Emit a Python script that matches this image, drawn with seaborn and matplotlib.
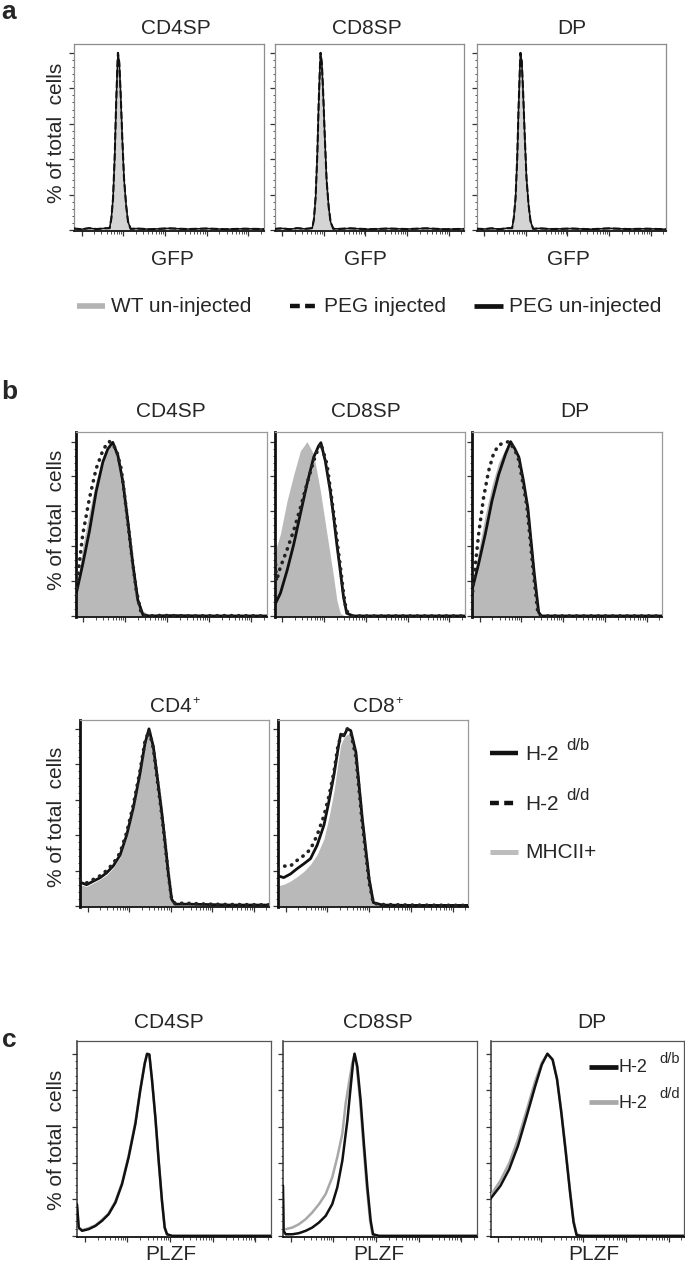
import numpy as np
import pandas as pd
import matplotlib
matplotlib.use("Agg")
import matplotlib.pyplot as plt
import seaborn as sns
from matplotlib.lines import Line2D

sns.set_theme(style="white")
plt.rcParams['font.family'] = ['Liberation Sans', 'DejaVu Sans']

# ---------------- DATA (x = channel position in % of axis width, y = % of max) ----------------
# panel a : GFP (WT un-injected / PEG injected / PEG un-injected overlap almost perfectly)
a_titles = ["CD4SP", "CD8SP", "DP"]
a_cd4_x = [0, 4, 8, 12, 16, 18.8, 19.7, 20.6, 21.5, 22.2, 22.9, 23.2, 23.9, 24.6, 25.5, 26.4, 27.5, 28.5, 29.9, 33, 40, 50, 60, 70, 80, 90, 100]
a_cd4_y = [0.8, 0.4, 1.0, 0.5, 0.9, 1.0, 6.5, 17.8, 42, 70, 92.5, 100, 94.4, 77.6, 51.4, 29, 14, 4.7, 0.6, 0.8, 0.4, 0.9, 0.5, 0.8, 0.4, 0.7, 0.5]
a_cd8_x = [0, 4, 8, 12, 16, 19.9, 20.8, 21.7, 22.6, 23.3, 24.0, 24.3, 25.0, 25.7, 26.6, 27.5, 28.6, 29.6, 31.0, 34, 40, 50, 60, 70, 80, 90, 100]
a_cd8_y = [0.6, 0.9, 0.4, 1.0, 0.6, 1.0, 6.0, 18.5, 43, 71, 93, 100, 94, 77, 51, 28, 13, 4.5, 0.7, 0.6, 0.9, 0.4, 0.8, 0.5, 0.9, 0.4, 0.6]
a_dp_x = [0, 4, 8, 12, 16, 18.8, 19.7, 20.6, 21.5, 22.2, 22.9, 23.2, 23.9, 24.6, 25.5, 26.4, 27.5, 28.5, 29.9, 33, 40, 50, 60, 70, 80, 90, 100]
a_dp_y = [0.7, 0.5, 0.9, 0.4, 1.0, 1.0, 7.0, 18.0, 41, 69, 92, 100, 95, 78, 52, 29, 14, 5.0, 0.6, 0.9, 0.5, 0.8, 0.4, 0.9, 0.5, 0.7, 0.4]
a_legend = ["WT un-injected", "PEG injected", "PEG un-injected"]

# panel b (top) : H-2 d/b (solid), H-2 d/d (dotted), MHCII+ (grey fill)
b_titles = ["CD4SP", "CD8SP", "DP"]
b_cd4_db_x = [0, 3.8, 7.3, 10.8, 14.3, 16.9, 19.5, 22.2, 24.8, 27.4, 30, 32.6, 35.3, 38.7, 50, 70, 100]
b_cd4_db_y = [10.9, 29.8, 48.7, 71.3, 88.3, 95.8, 99.6, 92, 77, 54.3, 29.8, 9.1, 0.6, 0, 0.2, 0, 0]
b_cd4_dd_x = [0, 0.3, 3.8, 7.3, 10.8, 14.3, 16.9, 17.8, 21.3, 23.9, 26.5, 29.1, 31.8, 34.4, 37, 45, 60, 80, 100]
b_cd4_dd_y = [12, 14.7, 46.8, 67.5, 84.5, 94.9, 99.6, 100, 95.8, 84.5, 61.9, 37.4, 14.7, 1.5, 0, 0.3, 0, 0.2, 0]
b_cd4_mh_x = [0, 3.8, 7.3, 10.8, 14.3, 17.5, 19.5, 21, 23, 25.5, 28, 30.5, 33, 35, 38, 42, 50, 100]
b_cd4_mh_y = [12, 40, 60, 78, 90, 97, 98, 95, 86, 70, 50, 28, 10, 3, 1, 0.3, 0, 0]

b_cd8_db_x = [0, 3.1, 6.6, 10.1, 13.6, 17.1, 20.6, 23.2, 24.4, 26.7, 29.3, 31.1, 32.8, 34.6, 36.3, 38, 41.5, 100]
b_cd8_db_y = [6, 13, 26, 41, 58.5, 75.7, 91, 97.5, 99.4, 89, 72, 57, 41, 26, 11, 1.5, 0, 0]
b_cd8_dd_x = [0, 1, 3.1, 6.6, 10.1, 13.6, 17.1, 20.6, 23.2, 24.4, 27.6, 30, 31.8, 33.5, 34.9, 36.3, 37.7, 40, 100]
b_cd8_dd_y = [42, 20, 28, 38, 49, 62, 76, 89, 96.6, 99, 87, 68, 53, 38, 26, 13, 3.4, 0, 0]
b_cd8_mh_x = [0, 3.1, 6.6, 10.1, 13.6, 17.1, 20.6, 24.1, 27.6, 31.1, 32.8, 34.6, 37, 100]
b_cd8_mh_y = [36, 47, 66, 81, 94.7, 100, 92.8, 71.9, 47, 22.4, 9, 1.5, 0, 0]

b_dp_db_x = [0, 3.5, 7, 10.5, 14, 17.5, 20.3, 22.5, 24.7, 27, 29.4, 31, 32.8, 35.1, 36.5, 100]
b_dp_db_y = [14.8, 30, 47, 66, 81, 92.4, 100, 96, 91, 78, 62, 44, 24, 2, 0, 0]
b_dp_dd_x = [0, 0.9, 3.5, 6.1, 8.7, 11.3, 14, 17.5, 19.6, 22, 24.2, 26.5, 28.9, 30.5, 32.3, 34.6, 36, 100]
b_dp_dd_y = [10, 20.5, 47, 68, 83, 93, 98, 99.6, 100, 96, 91.5, 78, 63, 45, 25, 2.3, 0, 0]
b_dp_mh_x = [0, 3.5, 7, 10.5, 14, 17.5, 19.8, 22, 24.4, 26.7, 29, 30.7, 32.5, 34.8, 37, 45, 100]
b_dp_mh_y = [15, 38, 58, 75, 88, 96, 99, 95, 89, 76, 60, 43, 23, 3, 0.8, 0.3, 0]

# panel b (bottom) : CD4+ and CD8+
b2_titles = ["CD4", "CD8"]
b2_cd4_x = [0, 3.5, 7.1, 10.6, 14.1, 17.6, 21.2, 24.7, 28.2, 31.7, 34.4, 36.5, 38.8, 40.9, 43.2, 45, 46.7, 48.5, 50.3, 56.4, 67.9, 80, 100]
b2_cd4_db_y = [13.4, 12, 14, 15.9, 18.7, 22.6, 28.7, 40, 55.4, 74.6, 91.8, 100, 90, 72.7, 53.5, 36.3, 19, 3.8, 1, 1, 0.8, 0.5, 0.5]
b2_cd4_dd_y = [14.5, 13, 15, 17, 20, 24, 30, 41.5, 57, 76, 93, 99, 89, 71, 52, 35, 18, 3.5, 1.5, 1.5, 1, 0.8, 0.6]
b2_cd4_mh_y = [12, 11, 13, 15, 17.5, 21.5, 27.5, 38.5, 54, 73, 90, 98, 88, 70, 51, 34, 17, 2.5, 0.5, 0.3, 0.2, 0.1, 0]
b2_cd8_x = [0, 3, 6.5, 10, 13.6, 17.1, 20.6, 24.2, 26.8, 29.5, 31.7, 33, 34.7, 36.5, 38.3, 41, 44.4, 48, 50.2, 55, 70, 100]
b2_cd8_db_y = [17, 16, 18, 21, 23.8, 26.7, 34.3, 45.7, 59, 74.3, 89.5, 97, 96, 100, 99, 86.8, 49, 15, 1.9, 0.5, 0.3, 0.3]
b2_cd8_dd_y = [21, 22.5, 22.5, 25.7, 28.5, 32, 40, 51, 62, 76, 91.4, 95, 97, 100, 98, 84, 46, 13, 1.5, 0.8, 0.5, 0.3]
b2_cd8_mh_y = [11.4, 12.2, 14, 16.5, 19.5, 23.5, 29, 38, 50, 65, 82, 91, 95, 97, 96, 82, 44, 11, 1, 0.5, 0.3, 0.2]

# panel c : PLZF, H-2 d/b (black) and H-2 d/d (grey)
c_titles = ["CD4SP", "CD8SP", "DP"]
c_cd4_x = [0, 0.9, 2.6, 6, 9.5, 12.9, 16.3, 19.8, 23.2, 26.6, 30.1, 32.6, 34.9, 36.1, 37.3, 38.7, 40.4, 42.1, 43.8, 45.2, 46.4, 49, 100]
c_cd4_db_y = [17.4, 4.6, 2.8, 3.7, 5.5, 8.3, 11.9, 18.3, 28.4, 43.1, 61.5, 79.8, 94.5, 100, 99.6, 85.3, 65.1, 41.3, 19.3, 4.6, 0.9, 0, 0]
c_cd4_dd_y = [16, 4, 3.2, 4.2, 5.8, 8.8, 12.3, 19, 29, 44, 62.5, 80.5, 95, 99.5, 99.2, 85, 64.5, 41, 19, 4.5, 0.8, 0, 0]
c_cd8_db_x = [0, 0.3, 1.4, 4.8, 8.2, 11.7, 15.1, 18.6, 22, 25.4, 28, 30.6, 33.2, 34.9, 36.1, 36.9, 38.3, 40, 41.7, 43.5, 45.2, 46.4, 49.5, 100]
c_cd8_db_y = [27.6, 2.8, 0.9, 0.9, 1.5, 2.8, 4.6, 7.4, 11, 17.5, 26.7, 41.4, 63.5, 82, 94.8, 100, 93, 74.6, 50.6, 26.7, 8.3, 0.9, 0, 0]
c_cd8_dd_x = [0, 0.3, 1.4, 4.8, 8.2, 11.7, 15.1, 18.6, 22, 25.4, 28, 30.6, 32.3, 34, 35.7, 36.9, 38, 39.7, 41.4, 43.2, 44.9, 46.1, 49, 100]
c_cd8_dd_y = [20, 3.7, 3.7, 4.6, 6.4, 9.2, 12.9, 17.5, 23, 32.2, 43.3, 56.2, 72.7, 83.8, 94.8, 100, 93, 74.6, 50.6, 26.7, 8.3, 0.9, 0, 0]
c_dp_x = [0, 5.2, 9.7, 14.2, 18.7, 23.1, 26.5, 29.4, 32.1, 34.4, 36.6, 38.9, 41.1, 42.9, 44.5, 47, 100]
c_dp_db_y = [20.4, 27.6, 36.7, 49.5, 65.8, 82.2, 94, 100, 96.7, 85.8, 67.6, 45.8, 24, 7.6, 0.4, 0, 0]
c_dp_dd_y = [22, 30.5, 40, 53, 69, 85, 95, 100, 97, 86.5, 68.5, 47, 25, 8.5, 1, 0, 0]

# ---------------- FIGURE ----------------
W, H = 685, 1267
fig = plt.figure(figsize=(W / 100, H / 100), dpi=100)
FS = 15
GREY_A = "#d4d4d4"
GREY_B = "#b9b9b9"
GREY_C = "#a8a8a8"
DOT = (0, (0.1, 1.9))


def fx(x):
    return x / W


def fy(y):
    return 1 - y / H


def make_ax(l, r, t, b):
    return fig.add_axes([fx(l), fy(b), (r - l) / W, (b - t) / H])


def fill_curve(ax, x, y, color):
    ax.fill_between(x, y, 0, color=color, lw=0, zorder=1)


def line_curve(ax, x, y, color, lw, ls="-", z=3):
    df = pd.DataFrame({"x": x, "y": y})
    sns.lineplot(data=df, x="x", y="y", ax=ax, color=color, lw=lw, linestyle=ls,
                 sort=False, estimator=None, zorder=z, dash_capstyle="round")


def style_ax(ax, ytop, spine_col, left_col, left_lw, bottom_lw=1.3):
    ax.set_xlim(0, 100)
    ax.set_ylim(-0.6, ytop)
    ax.set_xlabel("")
    ax.set_ylabel("")
    majors = [4, 26, 48, 70, 92]
    minors = []
    for m in majors:
        for k in range(2, 10):
            p = m + 22 * np.log10(k)
            if p < 100:
                minors.append(p)
    ax.set_xticks(majors)
    ax.set_xticks(minors, minor=True)
    ax.set_yticks(np.arange(0, 101, 20))
    ax.set_yticks(np.arange(0, 101, 4), minor=True)
    ax.tick_params(which="both", direction="out", labelbottom=False, labelleft=False,
                   bottom=True, left=True, top=False, right=False, color="#333333")
    ax.tick_params(which="major", length=3.5, width=0.9)
    ax.tick_params(which="minor", length=1.8, width=0.6)
    for s in ["top", "right"]:
        ax.spines[s].set_color(spine_col)
        ax.spines[s].set_linewidth(0.9)
    ax.spines["left"].set_color(left_col)
    ax.spines["left"].set_linewidth(left_lw)
    ax.spines["bottom"].set_color("#111111")
    ax.spines["bottom"].set_linewidth(bottom_lw)
    ax.set_facecolor("white")


def ftext(x, y, s, **kw):
    kw.setdefault("fontsize", FS)
    kw.setdefault("ha", "center")
    kw.setdefault("va", "center")
    fig.text(fx(x), fy(y), s, **kw)


def fline(x0, x1, y, color, lw, ls="-"):
    fig.add_artist(Line2D([fx(x0), fx(x1)], [fy(y), fy(y)], transform=fig.transFigure,
                          color=color, lw=lw, linestyle=ls, solid_capstyle="butt"))


# ---- panel a
a_boxes = [(74, 263.5), (274.5, 464), (476.5, 666)]
a_title_x = [176, 367, 572]
a_gfp_x = [172, 365, 568]
a_data = [(a_cd4_x, a_cd4_y), (a_cd8_x, a_cd8_y), (a_dp_x, a_dp_y)]
for (l, r), t, tx, gx, (xs, ys) in zip(a_boxes, a_titles, a_title_x, a_gfp_x, a_data):
    ax = make_ax(l, r, 44, 231)
    fill_curve(ax, xs, ys, GREY_A)          # WT un-injected
    line_curve(ax, xs, ys, "#111111", 1.1)  # PEG un-injected
    line_curve(ax, xs, ys, "#111111", 1.5, (0, (3, 2)), z=4)  # PEG injected
    style_ax(ax, 105, "#8c8c8c", "#8c8c8c", 0.9)
    ftext(tx, 29, t)
    ftext(gx, 260, "GFP")
ftext(56, 133, "% of total  cells", rotation=90)
ftext(9, 12, "a", fontsize=19, fontweight="bold")
fline(77, 105, 306, "#b3b3b3", 4)
ftext(111, 306, a_legend[0], ha="left")
fline(290, 316, 306, "#111111", 3.2, (0, (2.2, 1.2)))
ftext(324, 306, a_legend[1], ha="left")
fline(474, 503, 306, "#111111", 3.4)
ftext(509, 306, a_legend[2], ha="left")

# ---- panel b top
bt_boxes = [(75.5, 266.6), (274.5, 464.6), (472, 662)]
bt_title_x = [171, 366, 575]
bt_data = [
    (b_cd4_mh_x, b_cd4_mh_y, b_cd4_db_x, b_cd4_db_y, b_cd4_dd_x, b_cd4_dd_y),
    (b_cd8_mh_x, b_cd8_mh_y, b_cd8_db_x, b_cd8_db_y, b_cd8_dd_x, b_cd8_dd_y),
    (b_dp_mh_x, b_dp_mh_y, b_dp_db_x, b_dp_db_y, b_dp_dd_x, b_dp_dd_y),
]
for (l, r), t, tx, (mx, my, sx, sy, dx, dy) in zip(bt_boxes, b_titles, bt_title_x, bt_data):
    ax = make_ax(l, r, 431.7, 617)
    fill_curve(ax, mx, my, GREY_B)
    line_curve(ax, sx, sy, "#111111", 2.0)
    line_curve(ax, dx, dy, "#222222", 2.6, DOT, z=4)
    style_ax(ax, 105.7, "#9a9a9a", "#111111", 2.0)
    ftext(tx, 411.7, t)
ftext(57, 520, "% of total  cells", rotation=90)
ftext(9, 392, "b", fontsize=19, fontweight="bold")

# ---- panel b bottom
bb_boxes = [(80, 269), (278, 468)]
bb_title_right = [192, 395]
bb_data = [
    (b2_cd4_x, b2_cd4_mh_y, b2_cd4_db_y, b2_cd4_dd_y),
    (b2_cd8_x, b2_cd8_mh_y, b2_cd8_db_y, b2_cd8_dd_y),
]
for (l, r), t, tr, (xs, my, sy, dy) in zip(bb_boxes, b2_titles, bb_title_right, bb_data):
    ax = make_ax(l, r, 720, 907)
    fill_curve(ax, xs, my, GREY_B)
    line_curve(ax, xs, sy, "#111111", 2.0)
    line_curve(ax, xs, dy, "#222222", 2.6, DOT, z=4)
    style_ax(ax, 105, "#9a9a9a", "#111111", 2.0)
    ftext(tr, 707, t, ha="right")
    ftext(tr + 0.5, 701, "+", ha="left", fontsize=9)
ftext(57, 817, "% of total  cells", rotation=90)
fline(490, 518, 753, "#111111", 3.2)
ftext(525, 754, "H-2", ha="left")
ftext(566, 745, "d/b", ha="left", fontsize=12)
fline(490, 518, 803, "#111111", 3.2, (0, (2.0, 1.2)))
ftext(525, 804, "H-2", ha="left")
ftext(566, 795, "d/d", ha="left", fontsize=12)
fline(490, 518, 852, "#bdbdbd", 3.6)
ftext(525, 852, "MHCII+", ha="left")

# ---- panel c
c_boxes = [(77, 271), (283, 477), (490.5, 684)]
c_title_x = [169, 378, 592]
c_plzf_x = [171, 379, 594]
c_data = [
    (c_cd4_x, c_cd4_dd_y, c_cd4_x, c_cd4_db_y),
    (c_cd8_dd_x, c_cd8_dd_y, c_cd8_db_x, c_cd8_db_y),
    (c_dp_x, c_dp_dd_y, c_dp_x, c_dp_db_y),
]
for (l, r), t, tx, px, (gx, gy, bx, by) in zip(c_boxes, c_titles, c_title_x, c_plzf_x, c_data):
    ax = make_ax(l, r, 1041, 1237)
    line_curve(ax, gx, gy, GREY_C, 1.8)
    line_curve(ax, bx, by, "#111111", 1.8, z=4)
    style_ax(ax, 107, "#555555", "#333333", 1.1)
    ftext(tx, 1023, t)
    ftext(px, 1255, "PLZF")
ftext(57, 1140, "% of total  cells", rotation=90)
ftext(9, 1040, "c", fontsize=19, fontweight="bold")
fline(588.5, 618, 1067, "#111111", 3.4)
ftext(619, 1068, "H-2", ha="left", fontsize=13)
ftext(659, 1059, "d/b", ha="left", fontsize=10.5)
fline(588.5, 618, 1102, GREY_C, 3.4)
ftext(619, 1103, "H-2", ha="left", fontsize=13)
ftext(659, 1094, "d/d", ha="left", fontsize=10.5)

fig.savefig("out.png", dpi=100, facecolor="white")
